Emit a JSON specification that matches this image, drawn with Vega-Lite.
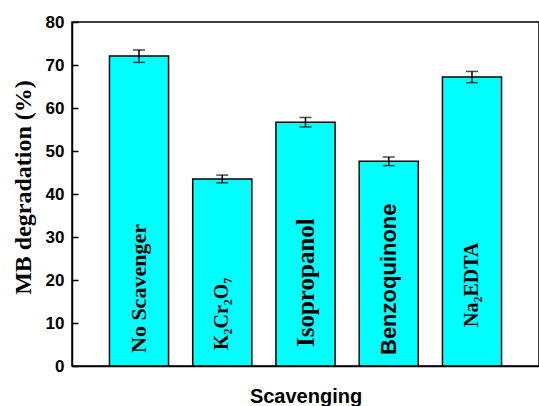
{
  "$schema": "https://vega.github.io/schema/vega-lite/v6.json",
  "autosize": {"type": "none"},
  "padding": {"left": 72, "top": 22, "right": 0, "bottom": 40},
  "width": 467,
  "height": 344,
  "background": "white",
  "config": {
    "view": {"stroke": "black", "strokeWidth": 1.5},
    "axis": {"domainColor": "black", "domainWidth": 1.5, "tickColor": "black", "tickWidth": 1.5, "grid": false, "labelColor": "black", "titleColor": "black"}
  },
  "data": {
    "values": [
      {"name": "No Scavenger", "value": 72.1, "lo": 70.6, "hi": 73.5},
      {"name": "K₂Cr₂O₇", "value": 43.5, "lo": 42.6, "hi": 44.4},
      {"name": "Isopropanol", "value": 56.7, "lo": 55.6, "hi": 57.8},
      {"name": "Benzoquinone", "value": 47.6, "lo": 46.6, "hi": 48.6},
      {"name": "Na₂EDTA", "value": 67.2, "lo": 65.9, "hi": 68.5}
    ]
  },
  "encoding": {
    "x": {
      "field": "name", "type": "nominal", "sort": null,
      "scale": {"paddingInner": 0.29, "paddingOuter": 0.45},
      "axis": {"labels": false, "ticks": false, "title": "Scavenging", "titleFont": "Liberation Sans", "titleFontWeight": "bold", "titleFontSize": 20, "titleY": 36, "titleBaseline": "alphabetic"}
    }
  },
  "layer": [
    {
      "mark": {"type": "bar", "fill": "#00FFFF", "stroke": "black", "strokeWidth": 1.5},
      "encoding": {
        "y": {"field": "value", "type": "quantitative",
          "scale": {"domain": [0, 80], "nice": false},
          "axis": {"values": [0,5,10,15,20,25,30,35,40,45,50,55,60,65,70,75,80],
            "labelExpr": "datum.value % 10 === 0 ? datum.label : ''",
            "tickSize": -6, "labelPadding": 14,
            "labelFont": "Liberation Sans", "labelFontWeight": "bold", "labelFontSize": 17,
            "title": "MB degradation (%)", "titleFont": "Liberation Serif", "titleFontWeight": "bold", "titleFontSize": 24,
            "titleX": -49, "titleY": 165, "titleAngle": 270, "titleBaseline": "middle", "titleAlign": "center"}
        }
      }
    },
    {
      "mark": {"type": "rule", "stroke": "black", "strokeWidth": 1.5},
      "encoding": {"y": {"field": "lo", "type": "quantitative"}, "y2": {"field": "hi"}}
    },
    {
      "mark": {"type": "tick", "color": "black", "size": 12, "thickness": 1.5, "orient": "horizontal"},
      "encoding": {"y": {"field": "lo", "type": "quantitative"}}
    },
    {
      "mark": {"type": "tick", "color": "black", "size": 12, "thickness": 1.5, "orient": "horizontal"},
      "encoding": {"y": {"field": "hi", "type": "quantitative"}}
    },
    {
      "transform": [{"filter": "datum.name === 'No Scavenger'"}],
      "mark": {"type": "text", "angle": 270, "align": "left", "baseline": "middle", "dx": 13, "font": "Liberation Serif", "fontWeight": "bold", "fontSize": 22, "color": "black"},
      "encoding": {"y": {"datum": 0, "type": "quantitative"}, "text": {"field": "name"}}
    },
    {
      "transform": [{"filter": "datum.name === 'K₂Cr₂O₇'"}],
      "mark": {"type": "text", "angle": 270, "align": "left", "baseline": "middle", "dx": 16, "font": "Liberation Serif", "fontWeight": "bold", "fontSize": 20, "color": "black"},
      "encoding": {"y": {"datum": 0, "type": "quantitative"}, "text": {"field": "name"}}
    },
    {
      "transform": [{"filter": "datum.name === 'Isopropanol'"}],
      "mark": {"type": "text", "angle": 270, "align": "left", "baseline": "middle", "dx": 19, "font": "Liberation Serif", "fontWeight": "bold", "fontSize": 25, "color": "black"},
      "encoding": {"y": {"datum": 0, "type": "quantitative"}, "text": {"field": "name"}}
    },
    {
      "transform": [{"filter": "datum.name === 'Na₂EDTA'"}],
      "mark": {"type": "text", "angle": 270, "align": "left", "baseline": "middle", "dx": 39, "font": "Liberation Serif", "fontWeight": "bold", "fontSize": 20, "color": "black"},
      "encoding": {"y": {"datum": 0, "type": "quantitative"}, "text": {"field": "name"}}
    },
    {
      "transform": [{"filter": "datum.name === 'Benzoquinone'"}],
      "mark": {"type": "text", "angle": 270, "align": "left", "baseline": "middle", "dx": 11, "font": "Liberation Sans", "fontWeight": "bold", "fontSize": 22, "color": "black"},
      "encoding": {"y": {"datum": 0, "type": "quantitative"}, "text": {"field": "name"}}
    }
  ]
}
